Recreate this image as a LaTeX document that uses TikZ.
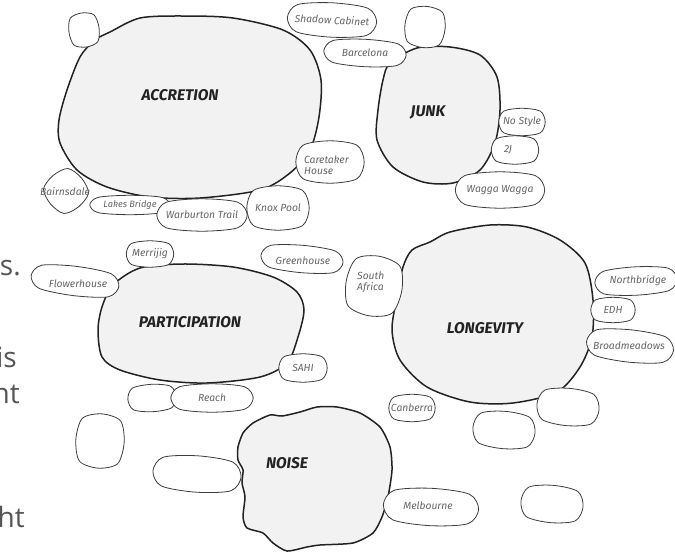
\documentclass[tikz,border=0pt]{standalone}
\usepackage{fontspec}
\setmainfont{Fira Sans}
\newfontfamily\pagefont{Open Sans}
\usetikzlibrary{calc,backgrounds}
\definecolor{blobline}{HTML}{222222}
\definecolor{blobfill}{HTML}{F2F2F2}
\definecolor{smallline}{HTML}{3C3C3C}
\definecolor{tagtext}{HTML}{666666}
\definecolor{pagetext}{HTML}{555555}
\tikzset{
  bigblob/.style={draw=blobline,fill=blobfill,line width=1.5pt,line join=round},
  title/.style={font=\fontsize{15.5}{18}\selectfont\bfseries\itshape,text=blobline,inner sep=0pt},
  blob/.style={inner sep=1pt,font=\fontsize{10.3}{11.5}\selectfont\itshape,text=tagtext,align=left},
  blobedge/.style={draw=smallline,fill=white,line width=0.8pt},
  tag/.style={font=\fontsize{10.3}{11.5}\selectfont\itshape,text=tagtext,inner sep=0pt,align=left},
  pagetxt/.style={font=\pagefont\fontsize{28}{34}\selectfont,text=pagetext,inner sep=0pt,anchor=base east},
}

\begin{document}
\begin{tikzpicture}[x=1pt,y=-1pt]
  \useasboundingbox (0,0) rectangle (675,552);
  % text of the page behind, cut at the left edge
  \node[pagetxt] (frag1) at (21,275) {rs.};
  \node[pagetxt] (frag2) at (17,367) {is};
  \node[pagetxt] (frag3) at (20,403) {nt};
  \node[pagetxt] (frag4) at (25,527) {ht};

  \node[title] (accretion) at (180,95) {ACCRETION};
  \node[title] (junk) at (428,112) {JUNK};
  \node[title] (participation) at (190,322) {PARTICIPATION};
  \node[title] (longevity) at (485,328) {LONGEVITY};
  \node[title] (noise) at (287,463) {NOISE};

  % empty bubbles
  \foreach \x/\y/\w/\h/\r [count=\i] in {84/30/30/34/8, 425/27/40/41/-6, 152/398/48/27/3, 568/407/62/37/-5,
      504/430/62/37/-5, 552/504/62/37/-5, 100/441/48/54/-4, 197/474/88/36/-4}
    \node[blob,minimum width=\w,minimum height=\h,rotate=\r] (e\i) at (\x,\y) {};

  % named bubbles
  \node[blob,minimum width=89,minimum height=34,rotate=-3] (shadow) at (332,20) {Shadow Cabinet};
  \node[blob,minimum width=82,minimum height=27,rotate=-3] (barcelona) at (365,53) {};
  \node[tag] (barcelonatext) at (365,53) {Barcelona};
  \node[blob,minimum width=46,minimum height=27] (nostyle) at (522,122) {No Style};
  \node[blob,minimum width=47,minimum height=28] (twoj) at (515,150) {};
  \node[tag] (twojtext) at (508,150) {2J};
  \node[blob,minimum width=89,minimum height=36] (wagga) at (500,190) {Wagga Wagga};
  \node[blob,minimum width=68,minimum height=42] (caretaker) at (330,162) {};
  \node[tag,anchor=west] (caretakertext) at (304,165) {Caretaker\\House};
  \node[blob,minimum width=40,minimum height=40,rotate=40] (bairnsdale) at (66,191) {};
  \node[tag] (bairnsdaletext) at (65,192) {Bairnsdale};
  \node[blob,minimum width=80,minimum height=19,font=\fontsize{9.2}{10}\selectfont\itshape] (lakes) at (130,205) {Lakes Bridge};
  \node[blob,minimum width=90,minimum height=32] (warburton) at (202,215) {Warburton Trail};
  \node[blob,minimum width=62,minimum height=44] (knox) at (278,208) {Knox Pool};
  \node[blob,minimum width=47,minimum height=26] (merrijig) at (150,254) {Merrijig};
  \node[blob,minimum width=88,minimum height=29,rotate=-7] (flowerhouse) at (75,281) {};
  \node[tag] (flowerhousetext) at (78,284) {Flowerhouse};
  \node[blob,minimum width=82,minimum height=27,rotate=-5] (greenhouse) at (302,259) {};
  \node[tag] (greenhousetext) at (303,261) {Greenhouse};
  \node[blob,minimum width=48,minimum height=28] (sahi) at (303,368) {SAHI};
  \node[blob,minimum width=82,minimum height=28] (reach) at (212,398) {Reach};
  \node[blob,minimum width=56,minimum height=60,rotate=-10] (southafrica) at (374,286) {};
  \node[tag,anchor=west] (southafricatext) at (357,282) {South\\Africa};
  \node[blob,minimum width=82,minimum height=28,rotate=3] (northbridge) at (636,281) {};
  \node[tag] (northbridgetext) at (638,281) {Northbridge};
  \node[blob,minimum width=44,minimum height=25] (edh) at (613,310) {EDH};
  \node[blob,minimum width=87,minimum height=32,rotate=-6] (broadmeadows) at (630,346) {};
  \node[tag] (broadmeadowstext) at (629,346) {Broadmeadows};
  \node[blob,minimum width=46,minimum height=27] (canberra) at (412,408) {Canberra};
  \node[blob,minimum width=95,minimum height=37,rotate=-3] (melbourne) at (431,507) {};
  \node[tag] (melbournetext) at (428,506) {Melbourne};

  \begin{scope}[on background layer]
    % the five big clusters
    \draw[bigblob] plot[smooth cycle] coordinates {(80,57) (95,40) (110,32) (140,18) (183,16) (233,18) (283,30) (310,50) (321,80) (319,117) (310,150) (290,173) (260,190) (200,198) (150,197) (107,187) (77,170) (60,143) (59,120) (67,90)};
    \draw[bigblob] plot[smooth cycle] coordinates {(390,63) (417,48) (450,47) (480,55) (497,77) (500,110) (495,143) (480,170) (453,183) (423,182) (393,167) (377,140) (378,110) (383,80)};
    \draw[bigblob] plot[smooth cycle] coordinates {(113,285) (140,268) (183,264) (233,267) (273,277) (297,292) (304,310) (298,337) (287,363) (260,377) (207,383) (160,380) (120,370) (102,357) (98,330) (102,307)};
    \draw[bigblob] plot[smooth cycle] coordinates {(412,250) (430,242) (450,232) (490,225) (527,227) (560,240) (585,263) (593,300) (592,337) (580,367) (557,392) (513,403) (470,402) (427,387) (400,360) (392,330) (397,297) (403,267)};
    \draw[bigblob] plot[smooth cycle,tension=0.4] coordinates {(243,433) (253,423) (270,415) (282,416) (300,412) (317,407) (337,407) (360,413) (380,427) (390,447) (392,470) (388,497) (382,517) (373,533) (353,543) (320,545) (307,547) (287,551) (273,543) (263,533) (247,528) (243,517) (245,497) (242,483) (243,470) (238,460) (238,447)};
    % outlines of the small bubbles
    \foreach \n in {e1,e2,e3,e4,e5,e6,e7,e8,shadow,barcelona,nostyle,twoj,wagga,caretaker,bairnsdale,lakes,
        warburton,knox,merrijig,flowerhouse,greenhouse,sahi,reach,southafrica,northbridge,edh,broadmeadows,canberra,melbourne}
      \draw[blobedge] plot[smooth cycle] coordinates {(\n.east) ($(\n.center)!0.79!(\n.north east)$) (\n.north)
        ($(\n.center)!0.79!(\n.north west)$) (\n.west) ($(\n.center)!0.79!(\n.south west)$) (\n.south)
        ($(\n.center)!0.79!(\n.south east)$)};
  \end{scope}
\end{tikzpicture}
\end{document}
